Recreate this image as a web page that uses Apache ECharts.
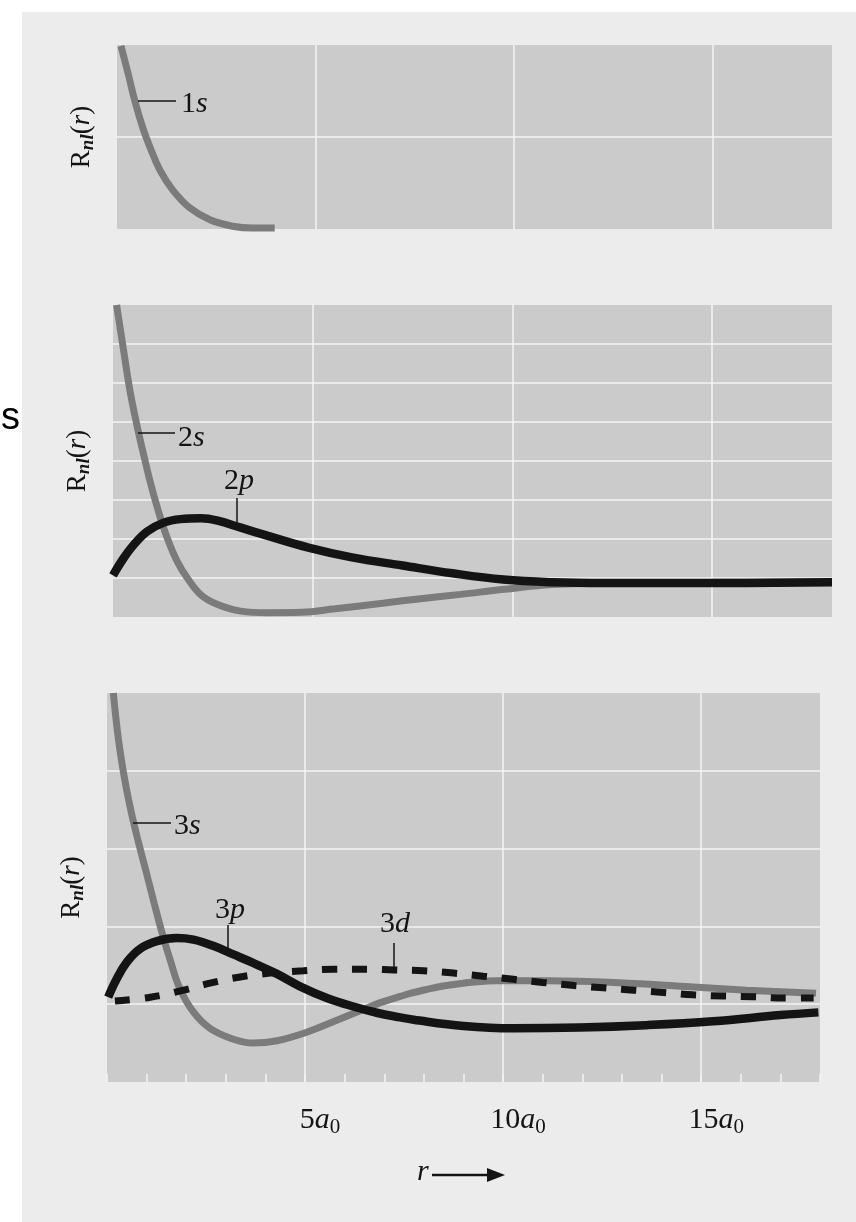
<!DOCTYPE html>
<html>
<head>
<meta charset="utf-8">
<script src="https://cdn.jsdelivr.net/npm/echarts@6/dist/echarts.min.js"></script>
<style>
  html, body { margin: 0; padding: 0; background: #ffffff; }
  #page { position: absolute; left: 22px; top: 12px; width: 834px; height: 1210px; background: #ececec; }
  #chart { position: absolute; left: 0; top: 0; width: 856px; height: 1222px; }
</style>
</head>
<body>
<div id="page"></div>
<div id="chart"></div>
<script>
// ---- Data (r in units of a0, R_nl(r) in arbitrary panel units) ----
const r1s = [0.1, 0.28, 0.45, 0.65, 0.83, 1.08, 1.41, 1.83, 2.34, 2.91, 3.42, 3.97];
const R1s = [1.99, 1.69, 1.39, 1.10, 0.89, 0.64, 0.42, 0.23, 0.10, 0.03, 0.01, 0.01];

const r2s = [0.09, 0.26, 0.43, 0.60, 0.77, 0.93, 1.14, 1.36, 1.61, 1.86, 2.2, 2.62, 3.2, 3.88, 4.72, 5.56, 6.8, 7.7, 8.7, 9.8, 11.0, 12.5, 15.0, 18.0];
const R2s = [7.0, 5.87, 4.77, 3.91, 3.15, 2.47, 1.70, 1.02, 0.42, 0.0, -0.43, -0.68, -0.85, -0.89, -0.88, -0.79, -0.64, -0.53, -0.42, -0.29, -0.17, -0.12, -0.11, -0.10];

const r2p = [0.0, 0.26, 0.51, 0.85, 1.27, 1.69, 2.2, 2.62, 3.2, 3.88, 4.89, 5.98, 7.25, 8.5, 9.77, 11.0, 12.3, 14.8, 18.0];
const R2p = [0.07, 0.50, 0.84, 1.19, 1.42, 1.51, 1.53, 1.47, 1.29, 1.08, 0.78, 0.53, 0.32, 0.12, -0.04, -0.11, -0.13, -0.13, -0.11];

const r3s = [0.16, 0.29, 0.45, 0.62, 0.8, 1.0, 1.2, 1.4, 1.6, 1.84, 2.18, 2.6, 3.19, 3.69, 4.29, 5.04, 5.88, 6.56, 6.9, 7.4, 7.74, 8.58, 9.84, 11.1, 12.8, 14.5, 16.15, 17.9];
const R3s = [4.0, 3.40, 2.88, 2.45, 2.07, 1.68, 1.28, 0.90, 0.56, 0.20, -0.10, -0.31, -0.45, -0.50, -0.47, -0.36, -0.19, -0.05, 0.02, 0.10, 0.15, 0.24, 0.30, 0.30, 0.28, 0.23, 0.18, 0.14];

const r3p = [0.03, 0.24, 0.5, 0.83, 1.26, 1.76, 2.18, 2.68, 3.19, 3.78, 4.29, 4.87, 5.55, 6.22, 6.81, 7.4, 7.74, 9.0, 10.26, 11.94, 13.6, 15.3, 17.0, 17.96];
const R3p = [0.09, 0.32, 0.54, 0.71, 0.81, 0.85, 0.83, 0.75, 0.64, 0.51, 0.39, 0.23, 0.08, -0.03, -0.11, -0.17, -0.20, -0.28, -0.31, -0.30, -0.27, -0.22, -0.14, -0.105];

const r3d = [0.2, 1.09, 1.93, 2.6, 3.36, 4.12, 4.96, 5.71, 6.56, 7.23, 7.99, 8.75, 9.5, 10.26, 11.0, 11.8, 12.53, 13.3, 14.05, 14.8, 15.56, 16.3, 17.08, 17.84];
const R3d = [0.04, 0.09, 0.18, 0.27, 0.35, 0.40, 0.43, 0.45, 0.45, 0.44, 0.43, 0.40, 0.36, 0.32, 0.28, 0.24, 0.21, 0.18, 0.15, 0.12, 0.105, 0.096, 0.08, 0.08];

const xTickLabels = [5, 10, 15];       // labelled multiples of a0
const curveLabels = ['1s', '2s', '2p', '3s', '3p', '3d'];

// ---- Styling ----
const SERIF = '"Liberation Serif", "DejaVu Serif", serif';
const PANEL = '#cbcbcb';
const GRIDC = '#f4f4f4';
const GRAY = '#7b7b7b';
const BLACK = '#141414';

function zip(a, b) { return a.map((v, i) => [v, b[i]]); }

const nameRich = {
  R: { fontFamily: SERIF, fontSize: 27, color: BLACK },
  sub: { fontFamily: SERIF, fontSize: 19, fontStyle: 'italic', fontWeight: 'bold', color: BLACK, padding: [13, 0, 0, 0] },
  i: { fontFamily: SERIF, fontSize: 27, fontStyle: 'italic', color: BLACK }
};
const yName = '{R|R}{sub|nl}{R|(}{i|r}{R|)}';

function yAxis(gi, min, max, gap) {
  return {
    type: 'value', gridIndex: gi, min: min, max: max, interval: 1,
    axisLine: { show: false }, axisTick: { show: false }, axisLabel: { show: false },
    splitLine: { show: true, showMinLine: false, showMaxLine: false, lineStyle: { color: GRIDC, width: 1.5 } },
    name: yName, nameLocation: 'middle', nameRotate: 90, nameGap: gap,
    nameTextStyle: { rich: nameRich }
  };
}
function xGridAxis(gi, labels) {
  return {
    type: 'value', gridIndex: gi, min: 0, max: 18, interval: 5, position: 'bottom',
    axisLine: { show: false, onZero: false }, axisTick: { show: false },
    splitLine: { show: true, showMinLine: false, showMaxLine: false, lineStyle: { color: GRIDC, width: 1.5 } },
    axisLabel: labels ? {
      show: true, margin: 20, padding: [0, 0, 0, 30],
      formatter: v => xTickLabels.includes(v) ? '{n|' + v + '}{a|a}{s|0}' : '',
      rich: {
        n: { fontFamily: SERIF, fontSize: 30, color: BLACK },
        a: { fontFamily: SERIF, fontSize: 30, fontStyle: 'italic', color: BLACK },
        s: { fontFamily: SERIF, fontSize: 21, color: BLACK, padding: [15, 0, 0, 0] }
      }
    } : { show: false }
  };
}

function label(txt, x, y) {
  return {
    type: 'text', x: x, y: y, z: 50,
    style: {
      text: '{d|' + txt[0] + '}{l|' + txt.slice(1) + '}',
      verticalAlign: 'middle', align: 'left',
      rich: {
        d: { fontFamily: SERIF, fontSize: 30, fill: BLACK },
        l: { fontFamily: SERIF, fontSize: 30, fontStyle: 'italic', fill: BLACK }
      }
    }
  };
}
function leader(x1, y1, x2, y2) {
  return { type: 'line', z: 50, shape: { x1: x1, y1: y1, x2: x2, y2: y2 }, style: { stroke: BLACK, lineWidth: 1.5 } };
}

const chart = echarts.init(document.getElementById('chart'), null, { renderer: 'canvas' });
chart.setOption({
  backgroundColor: 'transparent',
  animation: false,
  grid: [
    { left: 117, top: 45, width: 715, height: 184, show: true, backgroundColor: PANEL, borderWidth: 0, outerBoundsMode: 'none' },
    { left: 113, top: 305, width: 719, height: 312, show: true, backgroundColor: PANEL, borderWidth: 0, outerBoundsMode: 'none' },
    { left: 107, top: 693, width: 713, height: 389, show: true, backgroundColor: PANEL, borderWidth: 0, outerBoundsMode: 'none' }
  ],
  xAxis: [
    xGridAxis(0, false),
    xGridAxis(1, false),
    xGridAxis(2, true),
    {
      type: 'value', gridIndex: 2, min: 0, max: 18, interval: 1, position: 'bottom',
      axisLine: { show: false, onZero: false },
      axisTick: { show: true, inside: true, length: 8, lineStyle: { color: GRIDC, width: 1.5 } },
      axisLabel: { show: false }, splitLine: { show: false }
    }
  ],
  yAxis: [
    yAxis(0, 0, 2, 19),
    yAxis(1, -1, 7, 19),
    yAxis(2, -1, 4, 19)
  ],
  series: [
    { name: curveLabels[0], type: 'line', xAxisIndex: 0, yAxisIndex: 0, data: zip(r1s, R1s), smooth: 0.4, symbol: 'none',
      lineStyle: { color: GRAY, width: 7 }, z: 2 },
    { name: curveLabels[1], type: 'line', xAxisIndex: 1, yAxisIndex: 1, data: zip(r2s, R2s), smooth: 0.4, symbol: 'none',
      lineStyle: { color: GRAY, width: 7 }, z: 2 },
    { name: curveLabels[2], type: 'line', xAxisIndex: 1, yAxisIndex: 1, data: zip(r2p, R2p), smooth: 0.4, symbol: 'none',
      lineStyle: { color: BLACK, width: 8.5 }, z: 3 },
    { name: curveLabels[3], type: 'line', xAxisIndex: 2, yAxisIndex: 2, data: zip(r3s, R3s), smooth: 0.4, symbol: 'none',
      lineStyle: { color: GRAY, width: 7 }, z: 2 },
    { name: curveLabels[4], type: 'line', xAxisIndex: 2, yAxisIndex: 2, data: zip(r3p, R3p), smooth: 0.4, symbol: 'none',
      lineStyle: { color: BLACK, width: 8.5 }, z: 3 },
    { name: curveLabels[5], type: 'line', xAxisIndex: 2, yAxisIndex: 2, data: zip(r3d, R3d), smooth: 0.4, symbol: 'none',
      lineStyle: { color: BLACK, width: 7, type: [15, 15], cap: 'butt' }, z: 4 }
  ],
  graphic: [
    { type: 'text', x: 1, y: 419, z: 50, style: { text: 's', fontFamily: '"Liberation Sans", Arial, sans-serif', fontSize: 38, fill: '#000', verticalAlign: 'middle' } },
    leader(138, 101, 176, 101), label(curveLabels[0], 181, 104),
    leader(138, 433, 175, 433), label(curveLabels[1], 178, 438),
    leader(237, 498, 237, 527), label(curveLabels[2], 224, 481),
    leader(133, 823, 171, 823), label(curveLabels[3], 174, 826),
    leader(228, 925, 228, 951), label(curveLabels[4], 215, 910),
    leader(394, 943, 394, 969), label(curveLabels[5], 380, 924),
    { type: 'text', x: 417, y: 1172, z: 50, style: { text: 'r', fontFamily: SERIF, fontSize: 30, fontStyle: 'italic', fill: BLACK, verticalAlign: 'middle' } },
    { type: 'line', z: 50, shape: { x1: 432, y1: 1175, x2: 492, y2: 1175 }, style: { stroke: BLACK, lineWidth: 2.5 } },
    { type: 'polygon', z: 50, shape: { points: [[487, 1168], [505, 1175], [487, 1182]] }, style: { fill: BLACK } }
  ]
});
</script>
</body>
</html>
